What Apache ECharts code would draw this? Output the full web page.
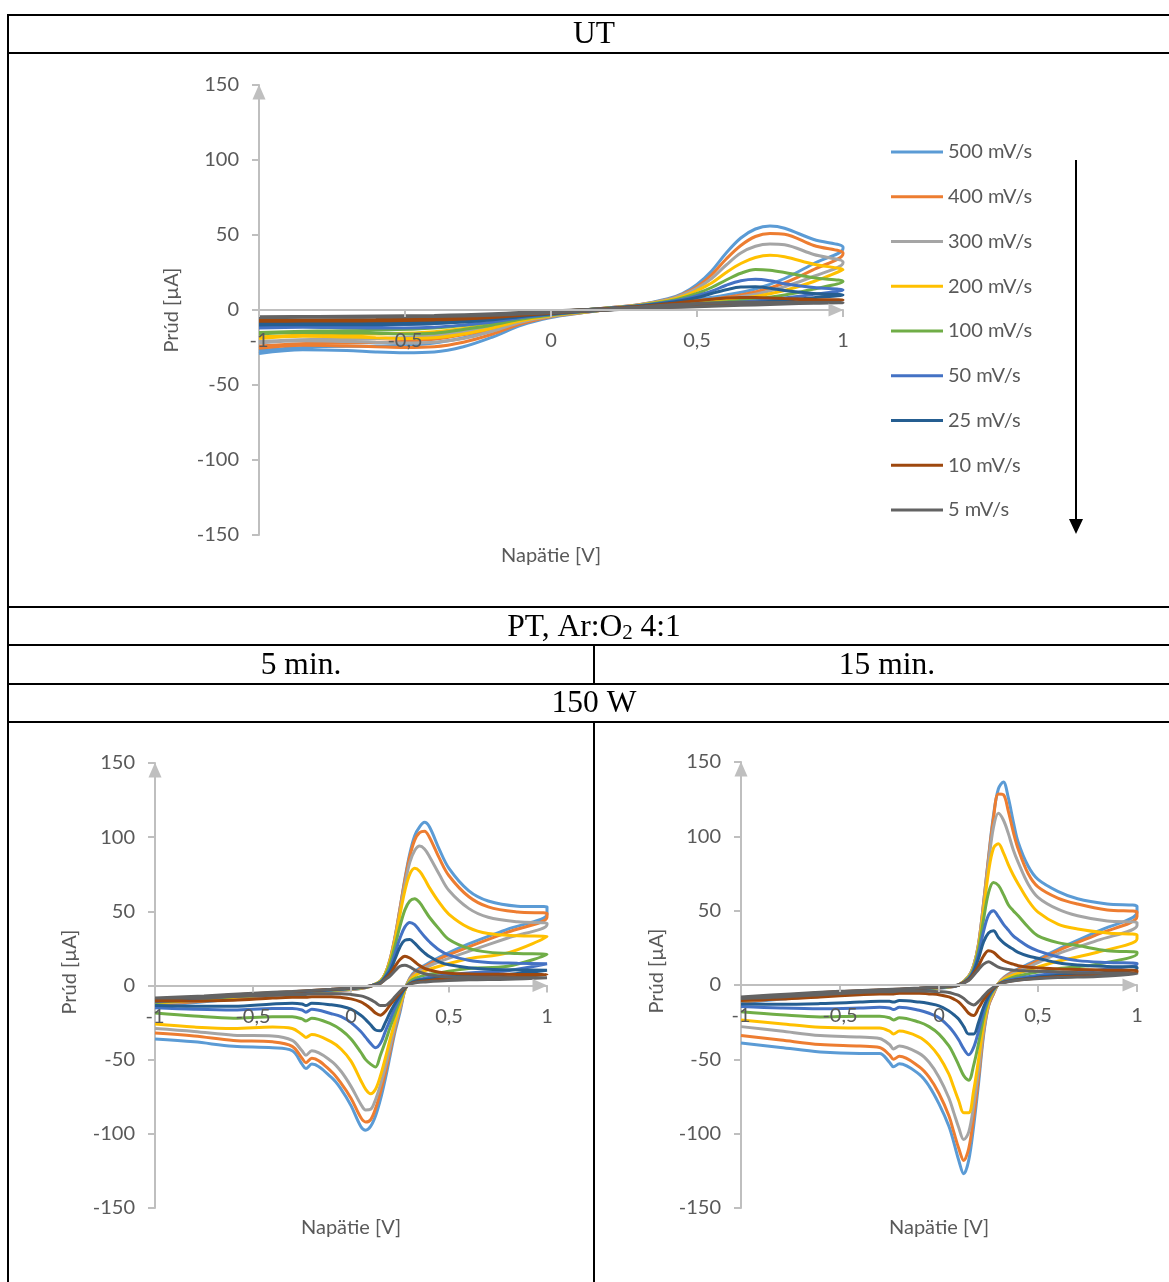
<!DOCTYPE html>
<html>
<head>
<meta charset="utf-8">
<script src="https://cdn.jsdelivr.net/npm/echarts@6/dist/echarts.min.js"></script>
<style>
  html, body { margin: 0; padding: 0; background: #ffffff; }
  #cv { width: 1169px; height: 1282px; }
</style>
</head>
<body>
<div id="cv"></div>
<script>
// Scan rates (legend order) and their line colours
const scanRates = ['500 mV/s', '400 mV/s', '300 mV/s', '200 mV/s', '100 mV/s', '50 mV/s', '25 mV/s', '10 mV/s', '5 mV/s'];
const rateColors = ['#5B9BD5', '#ED7D31', '#A5A5A5', '#FFC000', '#70AD47', '#4472C4', '#255E91', '#9E480E', '#636363'];

// Axis ticks and their printed labels (decimal comma)
const voltageTicks = [-1, -0.5, 0, 0.5, 1];
const voltageTickLabels = ['-1', '-0,5', '0', '0,5', '1'];
const currentTicks = [-150, -100, -50, 0, 50, 100, 150];
const currentTickLabels = ['-150', '-100', '-50', '0', '50', '100', '150'];

// ---- UT: untreated electrode ----
const utForwardV = [-1, -0.8, -0.6, -0.4, -0.2, 0, 0.2, 0.3, 0.4, 0.45, 0.5, 0.55, 0.6, 0.65, 0.7, 0.75, 0.8, 0.9, 1];
const utForwardI = [
  [-27, -24.5, -24, -22, -14, -3, 1.5, 3.5, 7.5, 11, 17, 26, 38, 48, 54, 56, 54.5, 47, 42],
  [-24, -22, -21.5, -19.5, -12.5, -2.5, 1.5, 3.5, 7, 10.5, 15.5, 23.5, 34, 43, 49, 51, 50.5, 43, 38],
  [-21, -19.5, -19, -17, -11, -2.2, 1.5, 3.4, 6.8, 10, 14.5, 21, 30, 38, 42.5, 44, 43.5, 37, 32],
  [-18, -16.5, -16, -14.5, -9.5, -2, 1.4, 3.2, 6.3, 9, 13, 18, 25, 31, 35, 36.5, 35.5, 30.5, 26.7],
  [-15, -14, -13.5, -12, -8, -1.8, 1.3, 3, 5.8, 8, 11, 15, 20, 24.5, 27, 26.5, 25, 21.5, 19],
  [-11, -10.5, -10, -9, -6, -1.5, 1.2, 2.8, 5.3, 7, 9.5, 12.5, 16.5, 19.5, 20.5, 19.5, 17.5, 15, 13.3],
  [-9, -8.5, -8.2, -7.5, -5, -1.3, 1.1, 2.6, 4.8, 6.3, 8.3, 11, 13.5, 15.3, 15.5, 14.5, 13, 11, 10],
  [-7, -6.6, -6.3, -5.8, -4, -1, 1, 2.3, 4.1, 5.1, 6.2, 7.2, 8, 8.4, 8.3, 8, 7.6, 7, 6.7],
  [-4.5, -4.3, -4, -3.6, -2.5, -0.6, 0.8, 2, 3.3, 3.8, 4.3, 4.7, 5, 5.1, 5.1, 5, 5, 5, 4.9]
];
const utReverseV = [1, 0.9, 0.8, 0.7, 0.6, 0.5, 0.4, 0.3, 0.2, 0.1, 0, -0.1, -0.2, -0.3, -0.4, -0.5, -0.6, -0.7, -0.85, -1];
const utReverseI = [
  [41, 31, 21, 14, 10, 7, 4.5, 2.5, 0.5, -2, -5, -10, -18, -24.5, -28, -28.5, -28, -27, -26.5, -29],
  [37.5, 27, 18, 12, 8.5, 6, 4, 2.3, 0.4, -2, -4.5, -9, -16, -21.5, -24.5, -25, -24.5, -24, -23.5, -25.5],
  [31.5, 22.5, 15.5, 10.5, 7.5, 5.5, 3.7, 2.1, 0.3, -1.8, -4.2, -8, -14, -19, -21.5, -22, -21.5, -21, -20.5, -22],
  [26.5, 19, 13, 9, 6.5, 4.8, 3.3, 1.9, 0.3, -1.6, -3.8, -7, -12, -16, -18.5, -19, -18.5, -18, -17.5, -19],
  [19, 14, 10, 7.3, 5.5, 4.2, 2.9, 1.7, 0.2, -1.4, -3.4, -6, -10, -13, -15.5, -16, -15.5, -15.3, -15, -16],
  [13.3, 10.5, 8, 6, 4.6, 3.6, 2.5, 1.5, 0.2, -1.2, -3, -5, -8, -10, -11.5, -12, -12, -11.8, -11.5, -12],
  [10, 8.2, 6.5, 5, 4, 3.1, 2.2, 1.3, 0.1, -1, -2.6, -4.3, -6.5, -8, -9, -9.5, -9.8, -9.8, -9.7, -10],
  [6.7, 5.8, 5, 4, 3.3, 2.6, 1.9, 1.1, 0.1, -0.9, -2.2, -3.5, -5, -6, -6.6, -7, -7.2, -7.3, -7.4, -7.5],
  [4.9, 4.5, 4, 3.4, 2.8, 2.2, 1.6, 0.9, 0, -0.8, -1.8, -2.7, -3.5, -4, -4.3, -4.5, -4.7, -4.8, -4.9, -5]
];

// ---- PT, Ar:O2 4:1, 150 W: shared potential grids ----
const ptForwardV = [-1, -0.75, -0.5, -0.3, -0.1, 0.05, 0.1, 0.15, 0.175, 0.2, 0.225, 0.25, 0.275, 0.3, 0.325, 0.35, 0.375, 0.4, 0.45, 0.5, 0.6, 0.7, 0.85, 1];
const ptReverseV = [1, 0.8, 0.6, 0.45, 0.38, 0.33, 0.3, 0.275, 0.25, 0.225, 0.2, 0.175, 0.15, 0.125, 0.1, 0.075, 0.05, 0, -0.05, -0.1, -0.2, -0.23, -0.25, -0.3, -0.4, -0.6, -0.8, -1];

// 5 min treatment
const pt5ForwardI = [
  [-14, -11, -8, -6, -4, -2, -0.5, 3, 8, 18, 33, 52, 72, 89, 101, 107, 110, 107, 92, 79, 64, 57, 53.5, 53],
  [-13, -10.5, -7.5, -5.5, -3.8, -2, -0.5, 3, 8, 18, 33, 52, 71, 87, 98, 103, 104, 100, 86, 74, 60, 53, 49.5, 48.5],
  [-12.5, -10, -7, -5.2, -3.6, -1.8, -0.5, 3, 8, 17, 32, 50, 68, 83, 91, 94, 92, 87, 75, 64, 52, 46, 43, 42],
  [-12, -9.5, -7, -5, -3.4, -1.6, -0.4, 3, 8, 17, 31, 48, 64, 75, 79, 77, 72, 66, 56, 48, 39, 35, 33.5, 33],
  [-11.5, -9, -6.5, -4.8, -3.2, -1.5, -0.4, 2.5, 7, 15, 27, 40, 51, 57, 58.5, 56, 51, 46, 38, 31, 25, 22.5, 21.5, 21],
  [-11, -8.5, -6.2, -4.6, -3, -1.4, -0.3, 2, 6, 12, 22, 32, 39.5, 42.5, 41, 37, 33, 29.5, 24, 20.5, 17, 15.5, 15, 14.6],
  [-10.5, -8, -6, -4.4, -2.8, -1.3, -0.3, 2, 5.5, 10, 18, 26, 30.5, 31, 28.5, 25, 22, 19.5, 16, 14, 12, 11, 10.5, 10.3],
  [-9.5, -7.5, -5.6, -4.2, -2.6, -1.2, -0.3, 1.5, 4.5, 8, 13, 17.5, 19.7, 18.5, 16, 13.5, 11.5, 10.5, 9, 8.3, 7.8, 7.6, 7.5, 7.4],
  [-8.5, -7, -5.2, -4, -2.5, -1.1, -0.3, 1.5, 4, 6.5, 10, 13, 13.7, 12.5, 10.5, 9, 8, 7.2, 6.3, 5.8, 5.5, 5.3, 5.2, 5.2]
];
const pt5ReverseI = [
  [48, 38, 28, 19, 14, 10, 5, -3, -18, -31, -47, -63, -77, -88, -95, -97.5, -95, -81, -70, -62, -53, -56, -53, -44, -42, -41, -38, -36],
  [46, 36, 26, 18, 13, 9, 4.5, -3, -16, -29, -44, -59, -72, -83, -90.5, -92, -89, -76, -66, -58, -49, -52, -49, -41, -38, -37, -34, -32],
  [41, 32, 23, 16, 12, 8, 4, -3, -15, -27, -41, -55, -67, -77, -83.5, -84, -80, -68, -58, -51, -44, -47, -44, -37, -34, -33.5, -31, -29],
  [33, 22, 18, 13, 10, 7, 3.5, -3, -13, -24, -36, -49, -61, -70, -73, -70, -64, -51, -43, -38, -33, -35, -33, -29, -28, -29, -28, -26],
  [21, 13, 11.5, 8.5, 7, 5, 2.5, -2, -10, -19, -28, -38, -47, -55, -53, -50, -45, -36, -30, -26, -22, -24, -22.5, -21, -21, -22, -20.5, -18.5],
  [15, 10, 8.5, 6.5, 5, 3.5, 1.5, -2, -8, -15, -23, -31, -39, -42, -39, -35, -31, -25, -21, -19, -16, -18, -16.5, -15.5, -15.5, -16.5, -16, -15],
  [10.5, 7.5, 6.5, 5, 4, 3, 1, -2, -6.5, -12, -18, -25, -30.5, -30, -26.5, -23, -20, -16, -14, -13, -12, -13.5, -12.5, -12, -12.5, -14, -14, -13.5],
  [7.4, 5.5, 5, 4, 3, 2.2, 1, -1.5, -5, -9, -13, -17.5, -20, -18.5, -15.5, -13, -11, -9, -8, -7.5, -7.5, -8, -8, -8, -8.5, -10, -10.5, -10.5],
  [5.2, 4.2, 3.8, 3, 2.4, 1.8, 0.8, -1, -4, -7.5, -11, -13.5, -13.5, -11.5, -9.5, -8, -7, -6, -5.5, -5.5, -5.5, -6, -6, -6, -6.5, -7.5, -8.5, -8.5]
];

// 15 min treatment
const pt15ForwardI = [
  [-12, -9, -6, -4.5, -3, -1.5, 0, 6, 13, 28, 55, 86, 114, 132, 136.5, 126, 110, 96, 80, 71, 63, 58, 54.5, 53],
  [-11.5, -8.5, -5.8, -4.3, -2.9, -1.4, 0, 6, 13, 28, 55, 85, 112, 128.5, 128, 117, 103, 91.5, 75, 66, 58.5, 54.5, 50.5, 49],
  [-11, -8, -5.5, -4, -2.8, -1.3, 0, 6, 13, 27, 53, 82, 106, 115.5, 111, 102, 91, 82.5, 68, 59, 51, 46.6, 43, 42],
  [-10.5, -7.8, -5.3, -3.9, -2.7, -1.2, 0, 5.5, 12, 26, 50, 76, 92, 95, 89, 81, 74, 68, 57, 49, 41, 37.7, 35, 33.6],
  [-10, -7.5, -5.1, -3.8, -2.6, -1.1, 0, 5, 11, 24, 44, 62, 69, 67, 61, 54, 50, 46.6, 39, 33, 28.5, 26.5, 23, 22],
  [-9.5, -7.2, -4.9, -3.7, -2.5, -1, 0, 4.5, 10, 21, 36, 47, 50, 46, 41, 37, 33, 30.5, 26, 23, 19, 16.4, 15.2, 14.6],
  [-9, -7, -4.7, -3.6, -2.4, -1, 0, 4, 9, 18, 29, 35, 36.5, 32, 28.5, 26, 24, 22, 19.5, 18, 15, 13.5, 12.5, 11.9],
  [-8.5, -6.5, -4.4, -3.4, -2.2, -0.9, 0, 3.5, 7.5, 13, 19.5, 23, 22, 19, 16.5, 15, 14, 13, 12, 11.5, 10.8, 10.5, 10, 9.6],
  [-8, -6, -4.2, -3.2, -2, -0.8, 0, 3, 6.5, 10.5, 14, 15.7, 14, 12, 11, 10.5, 10, 9.8, 9.5, 9.2, 8.8, 8.3, 7.8, 7.4]
];
const pt15ReverseI = [
  [49, 36, 24, 14, 9.5, 5.5, 1, -6, -14, -34, -66, -95, -118, -127, -118, -106, -95, -80, -68, -60, -53, -55, -52, -46, -46, -45, -42, -39],
  [46, 34, 23, 13, 9, 5, 1, -6, -14, -32, -62, -89, -110, -118, -110, -99, -88, -73, -62, -55, -48, -50, -47, -42, -41, -40, -37, -34],
  [40, 30, 21, 12, 8, 4.5, 1, -5, -13, -30, -57, -81, -99, -104, -96, -86, -76, -62, -52, -46, -41, -43, -40, -36, -35, -34, -31, -28],
  [31, 22, 16, 10, 7, 4, 1, -4, -12, -27, -50, -71, -86, -86, -78, -69, -60, -48, -40, -35, -31, -33, -31, -29, -29, -28.5, -26, -23.5],
  [21, 14, 11, 7.5, 5.5, 3, 0.5, -3.5, -10, -22, -39, -54, -64, -61, -54, -47, -41, -33, -28, -25, -22, -23.5, -22, -21, -21, -21.5, -20, -18],
  [14, 10, 8, 5.5, 4, 2.5, 0.5, -3, -8.5, -18, -31, -42, -47, -43, -37, -32, -28, -22, -19, -17, -15, -16.5, -15.5, -15, -15.5, -16, -15.5, -14.5],
  [11, 8, 6.5, 4.5, 3.3, 2, 0.3, -2.5, -7.5, -15, -25, -33, -33, -28, -23, -20, -17.5, -14, -12.5, -11.5, -10.5, -11.5, -11, -11, -11.5, -12.5, -13, -12.8],
  [8.5, 6.5, 5.5, 4, 3, 1.8, 0.3, -2, -5.5, -10, -15.5, -20.5, -19, -15, -11.5, -9.5, -8, -6.5, -6, -5.5, -5.5, -6, -6, -6, -6.5, -8, -9.5, -10.5],
  [7, 5.8, 5, 3.8, 2.8, 1.6, 0.3, -1.5, -4, -7.5, -11, -13.5, -12, -9, -7, -6, -5, -4.5, -4.2, -4, -4, -4.5, -4.5, -4.5, -5, -6.5, -8, -9]
];

// ---------------------------------------------------------------
const LABEL_FONT = 'Lato, "Liberation Sans", sans-serif';
const SERIF_FONT = '"Liberation Serif", "Times New Roman", serif';
const AXIS_GREY = '#BFBFBF';
const TEXT_GREY = '#595959';

// plot areas: [left, top, width, height]
const plotBoxes = [
  [259, 85, 584, 450],
  [155, 763, 392, 445],
  [741, 762, 396, 446]
];

function lookupLabel(ticks, labels, v) {
  const i = ticks.findIndex(t => Math.abs(t - v) < 1e-9);
  return i >= 0 ? labels[i] : '';
}

// The current range is symmetric, so the voltage axis sits half a plot height above the bottom edge.
// It is drawn above the curves so its labels stay readable.
function makeXAxis(gridIndex) {
  return {
    type: 'value', gridIndex, min: -1, max: 1, interval: 0.5, z: 5,
    position: 'bottom', offset: -plotBoxes[gridIndex][3] / 2,
    axisLine: {
      show: true, onZero: false,
      lineStyle: { color: AXIS_GREY, width: 2 },
      symbol: ['none', 'triangle'], symbolSize: [13, 15], symbolOffset: [0, -7]
    },
    axisTick: { show: true, length: 7, lineStyle: { color: AXIS_GREY, width: 2 } },
    axisLabel: {
      margin: 21, color: TEXT_GREY, fontSize: 20, fontFamily: LABEL_FONT, hideOverlap: false,
      formatter: v => lookupLabel(voltageTicks, voltageTickLabels, v)
    },
    splitLine: { show: false }
  };
}

function makeYAxis(gridIndex) {
  return {
    type: 'value', gridIndex, min: -150, max: 150, interval: 50,
    axisLine: {
      show: true, onZero: false,
      lineStyle: { color: AXIS_GREY, width: 2 },
      symbol: ['none', 'triangle'], symbolSize: [13, 15], symbolOffset: [0, -7]
    },
    axisTick: { show: true, length: 7, lineStyle: { color: AXIS_GREY, width: 2 } },
    axisLabel: {
      margin: 20, color: TEXT_GREY, fontSize: 20, fontFamily: LABEL_FONT,
      formatter: v => lookupLabel(currentTicks, currentTickLabels, v)
    },
    splitLine: { show: false }
  };
}

// One closed voltammogram: forward sweep followed by the reverse sweep
function loopSeries(axisIndex, k, fwdV, fwdI, revV, revI) {
  const data = fwdV.map((v, i) => [v, fwdI[k][i]])
    .concat(revV.map((v, i) => [v, revI[k][i]]));
  return {
    type: 'line', name: scanRates[k],
    xAxisIndex: axisIndex, yAxisIndex: axisIndex,
    data, symbol: 'none', showSymbol: false, smooth: 0.35,
    lineStyle: { color: rateColors[k], width: 3 },
    itemStyle: { color: rateColors[k] },
    emphasis: { disabled: true }
  };
}

const series = [];
scanRates.forEach((_, k) => series.push(loopSeries(0, k, utForwardV, utForwardI, utReverseV, utReverseI)));
scanRates.forEach((_, k) => series.push(loopSeries(1, k, ptForwardV, pt5ForwardI, ptReverseV, pt5ReverseI)));
scanRates.forEach((_, k) => series.push(loopSeries(2, k, ptForwardV, pt15ForwardI, ptReverseV, pt15ReverseI)));

// Table frame and header cells
function hLine(y, x1, x2) {
  return { type: 'line', silent: true, shape: { x1, y1: y, x2, y2: y }, style: { stroke: '#000', lineWidth: 2 } };
}
function vLine(x, y1, y2) {
  return { type: 'line', silent: true, shape: { x1: x, y1, x2: x, y2 }, style: { stroke: '#000', lineWidth: 2 } };
}
function cellText(text, x, y) {
  return {
    type: 'text', silent: true, x, y,
    style: { text, font: '31.5px ' + SERIF_FONT, fill: '#000', align: 'center', verticalAlign: 'middle', textAlign: 'center', textVerticalAlign: 'middle' }
  };
}
function axisTitle(text, x, y, vertical) {
  return {
    type: 'text', silent: true, x, y, rotation: vertical ? Math.PI / 2 : 0,
    style: { text, font: '20px ' + LABEL_FONT, fill: TEXT_GREY, align: 'center', verticalAlign: 'middle', textAlign: 'center', textVerticalAlign: 'middle' }
  };
}

const graphics = [
  hLine(15, 8, 1169), hLine(53, 8, 1169), hLine(607, 8, 1169), hLine(645, 8, 1169),
  hLine(684, 8, 1169), hLine(722, 8, 1169),
  vLine(8, 14, 1282), vLine(594, 645, 684), vLine(594, 722, 1282),
  cellText('UT', 594, 35),
  {
    type: 'text', silent: true, x: 594, y: 628,
    style: {
      text: '{n|PT, Ar:O}{s|2}{n| 4:1}',
      align: 'center', verticalAlign: 'middle', textAlign: 'center', textVerticalAlign: 'middle',
      rich: {
        n: { fontSize: 31.5, fontFamily: SERIF_FONT, color: '#000', lineHeight: 32 },
        s: { fontSize: 21, fontFamily: SERIF_FONT, color: '#000', lineHeight: 21, verticalAlign: 'bottom' }
      }
    }
  },
  cellText('5 min.', 301, 666),
  cellText('15 min.', 887, 666),
  cellText('150 W', 594, 704),
  axisTitle('Prúd [µA]', 172, 310, true),
  axisTitle('Napätie [V]', 551, 556, false),
  axisTitle('Prúd [µA]', 70, 972, true),
  axisTitle('Napätie [V]', 351, 1228, false),
  axisTitle('Prúd [µA]', 657, 971, true),
  axisTitle('Napätie [V]', 939, 1228, false),
  // downward arrow beside the legend (decreasing scan rate)
  { type: 'line', silent: true, shape: { x1: 1076, y1: 160, x2: 1076, y2: 522 }, style: { stroke: '#000', lineWidth: 2 } },
  { type: 'polygon', silent: true, shape: { points: [[1069, 519], [1083, 519], [1076, 534]] }, style: { fill: '#000' } }
];

const chart = echarts.init(document.getElementById('cv'), null, { renderer: 'canvas' });
chart.setOption({
  animation: false,
  backgroundColor: '#ffffff',
  grid: plotBoxes.map(b => ({ left: b[0], top: b[1], width: b[2], height: b[3] })),
  xAxis: [makeXAxis(0), makeXAxis(1), makeXAxis(2)],
  yAxis: [makeYAxis(0), makeYAxis(1), makeYAxis(2)],
  legend: {
    orient: 'vertical', left: 891, top: 140, padding: 0,
    data: scanRates, icon: 'rect', itemWidth: 52, itemHeight: 3, itemGap: 20.75,
    selectedMode: false,
    textStyle: { color: TEXT_GREY, fontSize: 20, fontFamily: LABEL_FONT, lineHeight: 24 }
  },
  graphic: { elements: graphics },
  series
});
</script>
</body>
</html>
